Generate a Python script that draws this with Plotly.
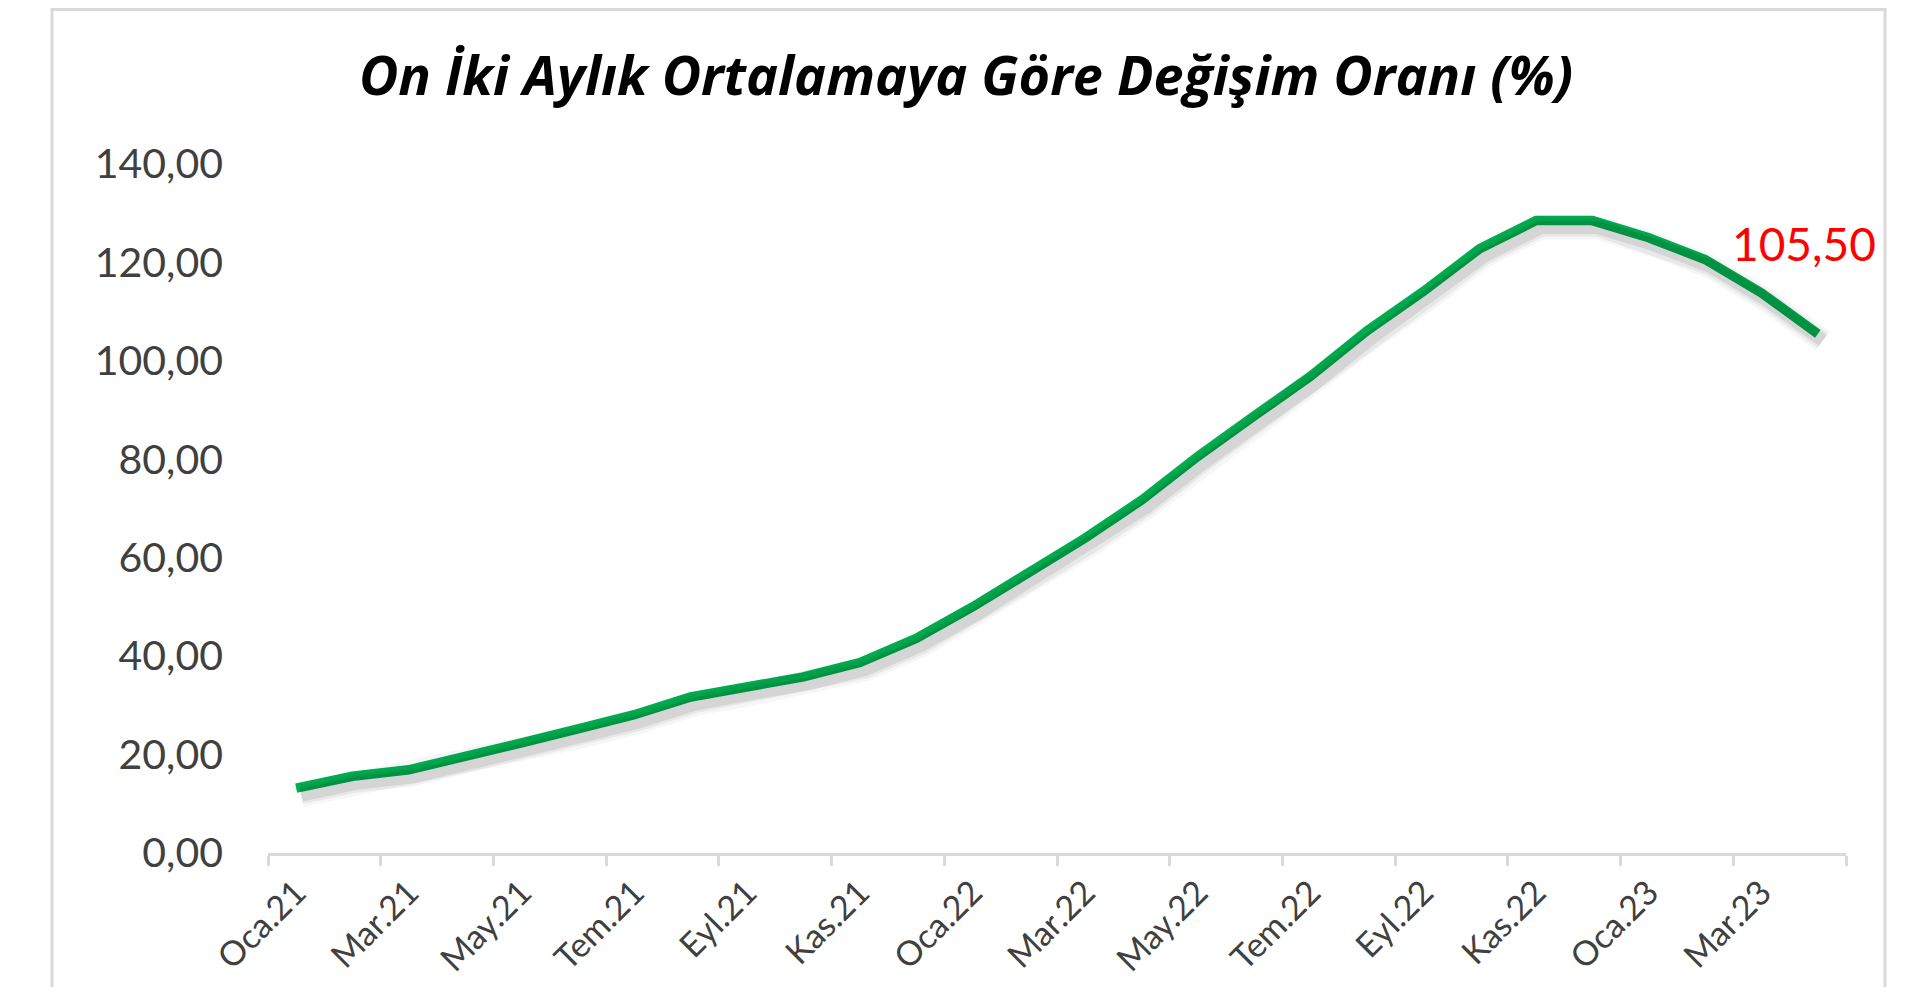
import plotly.graph_objects as go

# ---- data ----
month_names = ["Oca", "Şub", "Mar", "Nis", "May", "Haz", "Tem", "Ağu", "Eyl", "Eki", "Kas", "Ara"]
years = ["21", "22", "23"]
categories = [f"{m}.{y}" for y in years for m in month_names][:28]  # Oca.21 .. Nis.23
values = [13.2, 15.6, 16.9, 19.5, 22.4, 25.2, 28.1, 31.7, 33.8, 35.8, 38.7, 43.6,
          50.0, 57.0, 64.0, 71.7, 80.6, 88.8, 96.9, 106.1, 114.1, 122.8, 128.5, 128.5,
          125.0, 120.6, 113.8, 105.50]
y_ticks = [0, 20, 40, 60, 80, 100, 120, 140]
title_text = "On İki Aylık Ortalamaya Göre Değişim Oranı (%)"

# ---- layout constants (figure sits inside the page's 8px body margin) ----
W, H = 1900, 979
ML, MR, MT, MB = 260, 62, 156, 134
PW, PH = W - ML - MR, H - MT - MB
FONT = "Lato"
GREEN = "#00B050"
GRAY_TXT = "#404040"
AXIS_GRAY = "#D9D9D9"

xi = list(range(len(values)))
label_idx = xi[::2]
label_txt = [categories[i] for i in label_idx]
boundaries = [i - 0.5 for i in range(0, len(values) + 1, 2)]
x_rng = [-0.5, len(values) - 0.5]
y_rng = [0, 140]

fig = go.Figure()

# soft shadow: same data drawn on overlay axes whose ranges are shifted a few pixels
dxu = 5 * (x_rng[1] - x_rng[0]) / PW
dyu = 7 * (y_rng[1] - y_rng[0]) / PH
for w, a in [(24, 0.035), (18, 0.055), (13, 0.08)]:
    fig.add_trace(go.Scatter(x=xi, y=values, mode="lines", xaxis="x2", yaxis="y2",
                             line=dict(color=f"rgba(0,0,0,{a})", width=w),
                             hoverinfo="skip", showlegend=False))

fig.add_trace(go.Scatter(x=xi, y=values, mode="lines",
                         line=dict(color=GREEN, width=9.5),
                         showlegend=False))

last_val = values[-1]
fig.add_annotation(x=xi[-1], y=last_val, xref="x", yref="y",
                   text=f"{last_val:.2f}".replace(".", ","),
                   showarrow=False, xshift=-14, yshift=90,
                   font=dict(family=FONT, size=46, color="#FF0000"))

fig.update_layout(
    width=W, height=H,
    margin=dict(l=ML, r=MR, t=MT, b=MB, autoexpand=False),
    paper_bgcolor="white", plot_bgcolor="white",
    separators=",.",
    title=dict(text=title_text, xref="container", yref="container",
               x=958 / W, y=1 - 68 / H, xanchor="center", yanchor="middle",
               font=dict(family="Open Sans", size=54, color="black",
                         weight="bold", style="italic")),
    xaxis=dict(range=x_rng, tickmode="array", automargin=False,
               tickvals=label_idx, ticktext=label_txt, tickangle=-45,
               ticks="", showgrid=False, zeroline=False,
               showline=True, linecolor=AXIS_GRAY, linewidth=3,
               ticklabelstandoff=3,
               tickfont=dict(family=FONT, size=34, color=GRAY_TXT),
               minor=dict(tickmode="array", tickvals=boundaries, ticks="outside",
                          ticklen=10, tickwidth=3, tickcolor=AXIS_GRAY, showgrid=False)),
    yaxis=dict(range=y_rng, tickmode="array", tickvals=y_ticks, tickformat=".2f",
               automargin=False,
               showgrid=False, zeroline=False, showline=False, ticks="",
               ticklabelstandoff=44,
               tickfont=dict(family=FONT, size=41, color=GRAY_TXT)),
    xaxis2=dict(range=[x_rng[0] - dxu, x_rng[1] - dxu], anchor="y2",
                overlaying="x", visible=False),
    yaxis2=dict(range=[y_rng[0] + dyu, y_rng[1] + dyu], anchor="x2",
                overlaying="y", visible=False),
    shapes=[dict(type="rect", xref="paper", yref="paper",
                 x0=(44 - ML) / PW, x1=(1877 - ML) / PW,
                 y0=(H - MB - 1010) / PH, y1=(H - MB - 1.5) / PH,
                 line=dict(color=AXIS_GRAY, width=3), fillcolor="rgba(0,0,0,0)",
                 layer="below")],
)

fig.write_html("out.html")
